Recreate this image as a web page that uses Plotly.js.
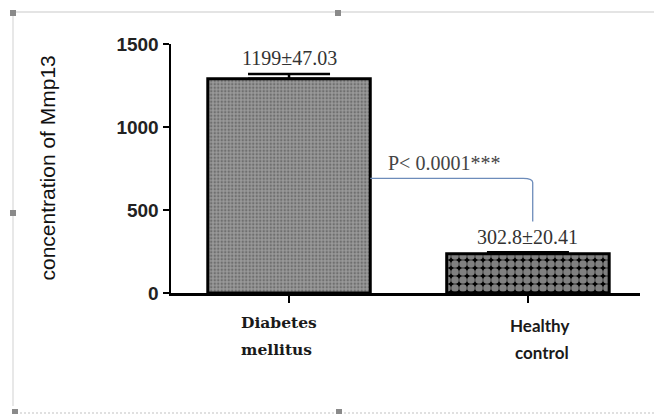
<!DOCTYPE html>
<html>
<head>
<meta charset="utf-8">
<script src="https://cdn.plot.ly/plotly-3.0.1.min.js"></script>
<style>
  html, body { margin: 0; padding: 0; background: #fff; }
  #wrap { position: relative; width: 654px; height: 414px; overflow: hidden; }
  #chart { position: absolute; left: 0; top: 0; width: 654px; height: 414px; }
  .frame-top { position: absolute; left: 12px; top: 11px; width: 642px; height: 0; border-top: 2px solid #e4e4e4; }
  .frame-left { position: absolute; left: 12px; top: 11px; width: 0; height: 395px; border-left: 2px solid #e8e8e8; }
  .frame-bottom { position: absolute; left: 12px; top: 412px; width: 642px; height: 0; border-top: 2px dotted #e0e0e0; }
  .handle { position: absolute; width: 6px; height: 6px; background: #8a8a8a; }
</style>
</head>
<body>
<div id="wrap">
  <div id="chart"></div>
  <div class="frame-top"></div>
  <div class="frame-left"></div>
  <div class="frame-bottom"></div>
  <div class="handle" style="left:10px;top:10px;"></div>
  <div class="handle" style="left:335px;top:10px;"></div>
  <div class="handle" style="left:10px;top:210px;"></div>
  <div class="handle" style="left:12px;top:409px;"></div>
  <div class="handle" style="left:336px;top:409px;"></div>
</div>
<script>
// ---- data ----
const categories = ["Diabetes mellitus", "Healthy control"];
const categoryLines = [["Diabetes", "mellitus"], ["Healthy", "control"]];
const barValues = [1290, 236];
const errorValues = [30, 10];
const valueLabels = ["1199±47.03", "302.8±20.41"];
const valueLabelY = [1415, 337];
const pText = "P< 0.0001***";
const pTextPos = [0.65, 783];
const bracketY = [690, 430];
const yTicks = [0, 500, 1000, 1500];
const yTitle = "concentration of Mmp13";

const barWidth = 0.68;
const xIdx = categories.map((c, i) => i);

const trace = {
  type: "bar",
  x: xIdx,
  y: barValues,
  width: barWidth,
  marker: {
    color: ["#9a9a9a", "#000000"],
    line: { color: "#000", width: 3 },
    pattern: {
      shape: [".", "."],
      fgcolor: ["#1e1e1e", "#ffffff"],
      bgcolor: ["#b4b4b4", "#000000"],
      size: [3.5, 8],
      solidity: [0.4, 0.72],
      fillmode: "overlay"
    }
  },
  error_y: {
    type: "data",
    symmetric: false,
    array: errorValues,
    arrayminus: errorValues.map(() => 0),
    visible: true,
    color: "#000",
    thickness: 2.5,
    width: 41
  },
  hoverinfo: "skip",
  showlegend: false
};

const serif = "Liberation Serif";
const annotations = [];
valueLabels.forEach((t, i) => {
  annotations.push({
    x: xIdx[i], y: valueLabelY[i], xref: "x", yref: "y",
    text: t, showarrow: false,
    font: { family: serif, size: 20, color: "#333" }
  });
});
annotations.push({
  x: pTextPos[0], y: pTextPos[1], xref: "x", yref: "y",
  text: pText, showarrow: false,
  font: { family: serif, size: 20, color: "#444" }
});
// category labels, one annotation per line
const catStyle = [
  { family: "DejaVu Serif", size: 15.5, xanchor: "left", xshift: -50, yshift: -18 },
  { family: "Lato", size: 17, xanchor: "right", xshift: 43, yshift: -20 }
];
categoryLines.forEach((lines, i) => {
  lines.forEach((ln, j) => {
    const s = catStyle[i];
    annotations.push({
      x: xIdx[i], y: 0, xref: "x", yref: "y", yanchor: "top", xanchor: s.xanchor,
      xshift: s.xshift, yshift: s.yshift - 27 * j,
      text: ln, showarrow: false,
      font: { family: s.family, size: s.size, color: "#1a1a1a", weight: "bold" }
    });
  });
});
// y title
annotations.push({
  x: 0, y: 0.5, xref: "paper", yref: "paper", xanchor: "center", yanchor: "middle",
  xshift: -124, textangle: -90,
  text: yTitle, showarrow: false,
  font: { family: "Liberation Sans", size: 21, color: "#111" }
});

const x0 = xIdx[0] + barWidth / 2;
const x1 = xIdx[1] + 0.02;
const r = 0.04;
const layout = {
  width: 654, height: 414,
  margin: { l: 171, r: 14, t: 44, b: 121 },
  paper_bgcolor: "rgba(0,0,0,0)",
  plot_bgcolor: "rgba(0,0,0,0)",
  xaxis: {
    type: "linear",
    range: [-0.494, 1.469],
    tickvals: xIdx,
    showticklabels: false,
    ticks: "outside", ticklen: 7, tickwidth: 2, tickcolor: "#000",
    showline: true, linecolor: "#000", linewidth: 2.5,
    showgrid: false, zeroline: false, fixedrange: true
  },
  yaxis: {
    range: [0, 1500],
    tickvals: yTicks,
    ticks: "outside", ticklen: 6, tickwidth: 2, tickcolor: "#000",
    showline: true, linecolor: "#000", linewidth: 2.5,
    showgrid: false, zeroline: false,
    tickfont: { family: "Liberation Sans", size: 19, color: "#222", weight: "bold" },
    fixedrange: true
  },
  shapes: [{
    type: "path", xref: "x", yref: "y",
    path: `M ${x0} ${bracketY[0]} L ${x1 - r} ${bracketY[0]} Q ${x1} ${bracketY[0]} ${x1} ${bracketY[0] - 25} L ${x1} ${bracketY[1]}`,
    line: { color: "#6d8cba", width: 1.3 }
  }],
  annotations: annotations
};

Plotly.newPlot("chart", [trace], layout, { staticPlot: true, displayModeBar: false });
</script>
</body>
</html>
